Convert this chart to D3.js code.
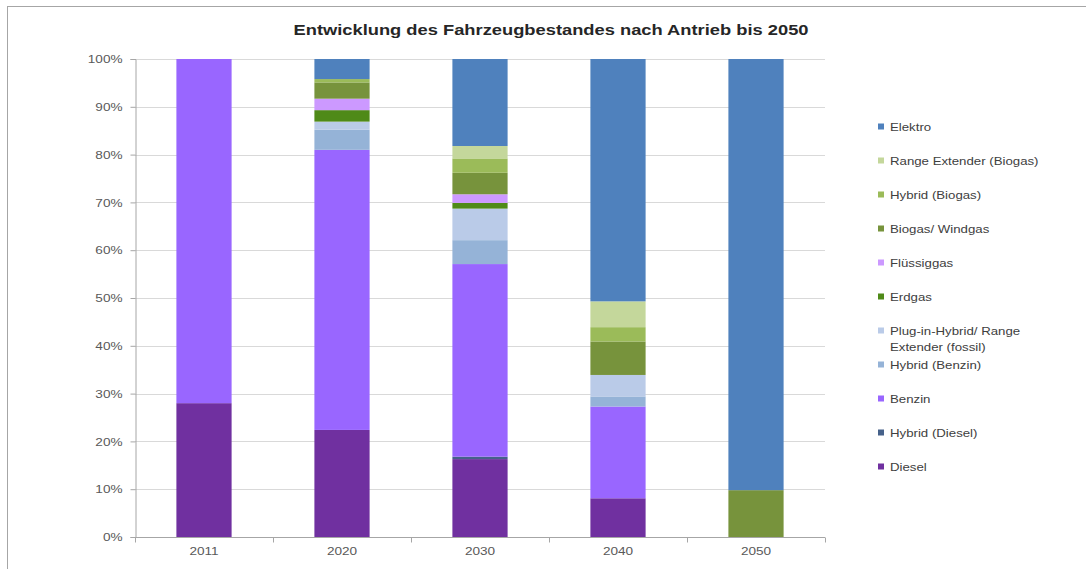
<!DOCTYPE html>
<html>
<head>
<meta charset="utf-8">
<script src="https://cdn.jsdelivr.net/npm/d3@7"></script>
<style>
  body { margin: 0; background: #fff; font-family: "Liberation Sans", Arial, sans-serif; }
</style>
</head>
<body>
<div id="main"></div>
<script>
const w = 1086;
const h = 569;

// data, values in percent of the total fleet
const years = ['2011', '2020', '2030', '2040', '2050'];
const seriesNames = [
  'Diesel', 'Hybrid (Diesel)', 'Benzin', 'Hybrid (Benzin)',
  'Plug-in-Hybrid/ Range Extender (fossil)', 'Erdgas', 'Flüssiggas',
  'Biogas/ Windgas', 'Hybrid (Biogas)', 'Range Extender (Biogas)', 'Elektro'
];
const diesel         = [28.0, 22.4, 16.3, 8.1, 0];
const hybridDiesel   = [0, 0, 0.5, 0, 0];
const benzin         = [72.0, 58.6, 40.3, 19.2, 0];
const hybridBenzin   = [0, 4.2, 5.0, 2.1, 0];
const plugIn         = [0, 1.7, 6.6, 4.5, 0];
const erdgas         = [0, 2.4, 1.2, 0, 0];
const fluessiggas    = [0, 2.4, 1.8, 0, 0];
const biogas         = [0, 3.4, 4.5, 7.0, 9.8];
const hybridBiogas   = [0, 0.7, 3.0, 3.0, 0];
const rangeExtBiogas = [0, 0, 2.6, 5.4, 0];
const elektro        = [0, 4.2, 18.2, 50.7, 90.2];
const yTicks = [0, 10, 20, 30, 40, 50, 60, 70, 80, 90, 100];

const allSeries = [diesel, hybridDiesel, benzin, hybridBenzin, plugIn, erdgas,
                   fluessiggas, biogas, hybridBiogas, rangeExtBiogas, elektro];
const colors = ['#7030A0', '#46618A', '#9966FF', '#95B3D7', '#BACBE8', '#4F8A18',
                '#CC99FF', '#77933C', '#9BBB59', '#C4D79B', '#4F81BD'];

const table = years.map((y, i) => {
  const row = { year: y };
  seriesNames.forEach((s, k) => row[s] = allSeries[k][i]);
  return row;
});

const plotLeft = 135, plotRight = 825, plotTop = 59, plotBottom = 537;

// the original picture is a bit wider than tall, so text gets stretched sideways
function widen(sel, f) {
  sel.each(function() {
    const l = this.getComputedTextLength();
    d3.select(this).attr('textLength', l * f).attr('lengthAdjust', 'spacingAndGlyphs');
  });
}

const svg = d3.select('#main').append('svg')
  .attr('width', w).attr('height', h);

// outer chart border
svg.append('rect')
  .attr('x', 7.5).attr('y', 6.5)
  .attr('width', w + 20).attr('height', h + 20)
  .attr('fill', '#fff').attr('stroke', '#A6A6A6');

const xScale = d3.scaleBand().domain(years).range([plotLeft, plotRight]).paddingInner(0.6).paddingOuter(0.3);
const xOuter = d3.scaleBand().domain(years).range([plotLeft, plotRight]);
const yScale = d3.scaleLinear().domain([0, 100]).range([plotBottom, plotTop]);

// grid
svg.append('g')
  .selectAll('line')
  .data(yTicks.slice(1))
  .enter().append('line')
  .attr('x1', plotLeft).attr('x2', plotRight)
  .attr('y1', d => Math.round(yScale(d)) + 0.5)
  .attr('y2', d => Math.round(yScale(d)) + 0.5)
  .attr('stroke', '#D9D9D9');

const stack = d3.stack().keys(seriesNames);
const layers = stack(table);

svg.append('g')
  .selectAll('g')
  .data(layers)
  .enter().append('g')
  .attr('fill', (d, i) => colors[i])
  .selectAll('rect')
  .data(d => d)
  .enter().append('rect')
  .attr('x', d => xScale(d.data.year))
  .attr('width', xScale.bandwidth())
  .attr('y', d => yScale(d[1]))
  .attr('height', d => yScale(d[0]) - yScale(d[1]));

// y axis
const yAxis = d3.axisLeft(yScale).tickValues(yTicks).tickFormat(d => d + '%').tickSize(5).tickPadding(8);
const gy = svg.append('g')
  .attr('transform', 'translate(' + (plotLeft + 0.5) + ',0)')
  .call(yAxis);
gy.select('.domain').attr('stroke', '#A6A6A6');
gy.selectAll('.tick line').attr('stroke', '#A6A6A6');
gy.selectAll('text').attr('fill', '#595959').style('font-size', '11.5px')
  .style('font-family', '"Liberation Sans", Arial, sans-serif');
widen(gy.selectAll('text'), 1.18);

// x axis
const gx = svg.append('g')
  .attr('transform', 'translate(0,' + (plotBottom + 0.5) + ')');
gx.append('line').attr('x1', plotLeft).attr('x2', plotRight).attr('stroke', '#A6A6A6');
gx.selectAll('.sep')
  .data(years.concat(['end']))
  .enter().append('line')
  .attr('x1', (d, i) => plotLeft + i * xOuter.step() + 0.5)
  .attr('x2', (d, i) => plotLeft + i * xOuter.step() + 0.5)
  .attr('y1', 0).attr('y2', 5)
  .attr('stroke', '#A6A6A6');
const xLabels = gx.selectAll('text')
  .data(years)
  .enter().append('text')
  .attr('x', d => xOuter(d) + xOuter.bandwidth() / 2)
  .attr('y', 17)
  .attr('text-anchor', 'middle')
  .attr('fill', '#595959')
  .style('font-size', '11.5px')
  .text(d => d);
widen(xLabels, 1.18);

// title
svg.append('text')
  .attr('x', 551).attr('y', 35)
  .attr('text-anchor', 'middle')
  .style('font-size', '15px')
  .style('font-weight', 'bold')
  .attr('fill', '#262626')
  .attr('textLength', 515)
  .attr('lengthAdjust', 'spacingAndGlyphs')
  .text('Entwicklung des Fahrzeugbestandes nach Antrieb bis 2050');

// legend, top to bottom reversed
const legendItems = seriesNames.map((s, i) => ({ name: s, color: colors[i] })).reverse();
const legend = svg.append('g').attr('transform', 'translate(878,127)');
const item = legend.selectAll('g')
  .data(legendItems)
  .enter().append('g')
  .attr('transform', (d, i) => 'translate(0,' + i * 34 + ')');
item.append('rect')
  .attr('x', 0).attr('y', -3.5).attr('width', 6).attr('height', 6)
  .attr('fill', d => d.color);
item.append('text')
  .attr('x', 12).attr('y', 4)
  .attr('fill', '#404040')
  .style('font-size', '11.5px')
  .each(function(d) {
    const t = d3.select(this);
    if (d.name.startsWith('Plug-in')) {
      t.append('tspan').attr('x', 12).attr('dy', 0).text('Plug-in-Hybrid/ Range');
      t.append('tspan').attr('x', 12).attr('dy', 16).text('Extender (fossil)');
    } else {
      t.append('tspan').text(d.name);
    }
  });
widen(item.selectAll('tspan'), 1.15);
</script>
</body>
</html>
